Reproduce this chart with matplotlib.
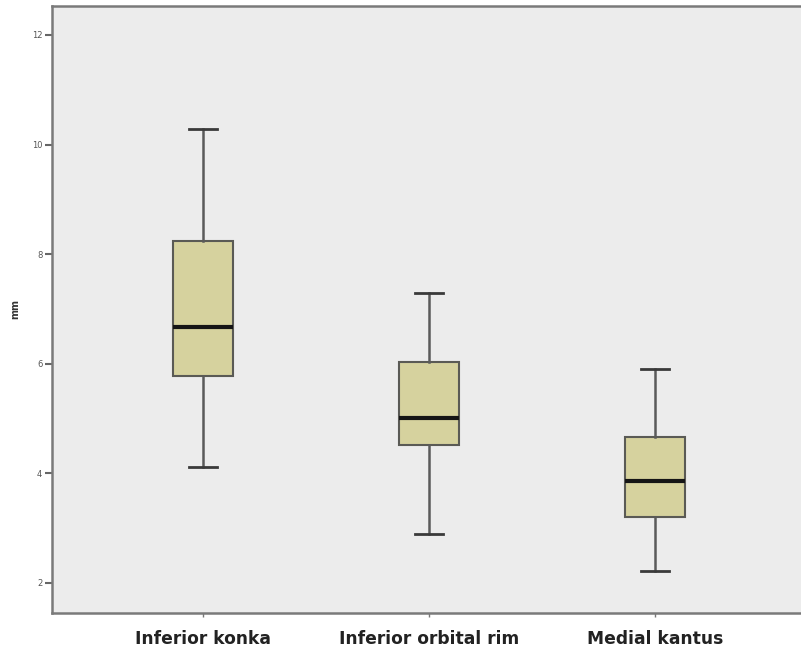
import matplotlib.pyplot as plt
import numpy as np

# values (mm)
categories = ["Inferior konka", "Inferior orbital rim", "Medial kantus"]
whis_low = [4.12, 2.89, 2.22]
q1 = [5.78, 4.52, 3.20]
median = [6.67, 5.01, 3.86]
q3 = [8.24, 6.03, 4.66]
whis_high = [10.28, 7.29, 5.91]
yticks = [2, 4, 6, 8, 10, 12]

stats = [
    dict(label=c, whislo=lo, q1=a, med=m, q3=b, whishi=hi, fliers=[])
    for c, lo, a, m, b, hi in zip(categories, whis_low, q1, median, q3, whis_high)
]

fig = plt.figure(figsize=(8.01, 6.55), dpi=100)
ax = fig.add_axes([0.065, 0.064, 0.935, 0.927])
ax.set_facecolor("#ececec")

ax.bxp(
    stats, positions=[1, 2, 3], widths=0.265, capwidths=0.124,
    patch_artist=True, showfliers=False,
    boxprops=dict(facecolor="#d6d29e", edgecolor="#5a5a55", linewidth=1.5),
    whiskerprops=dict(color="#5a5a5a", linewidth=1.8),
    capprops=dict(color="#3a3a3a", linewidth=2),
    medianprops=dict(color="#151515", linewidth=3),
)

ax.set_xlim(0.332, 3.646)
ax.set_ylim(1.45, 12.53)
ax.set_yticks(yticks)
ax.set_yticklabels([str(t) for t in yticks], fontsize=6, color="#555555")
ax.set_xticklabels(categories, fontsize=12.3, fontweight="bold", color="#222222")
ax.tick_params(axis="y", length=5, width=1.5, color="#666666", pad=2)
ax.tick_params(axis="x", length=3, width=1, color="#777777", pad=9)
ax.set_ylabel("mm", fontsize=7, fontweight="bold", color="#333333", labelpad=8)

for side in ["left", "bottom", "top"]:
    ax.spines[side].set_color("#7a7a7a")
    ax.spines[side].set_linewidth(1.8)
ax.spines["right"].set_visible(False)

fig.savefig("out.png", dpi=100)
